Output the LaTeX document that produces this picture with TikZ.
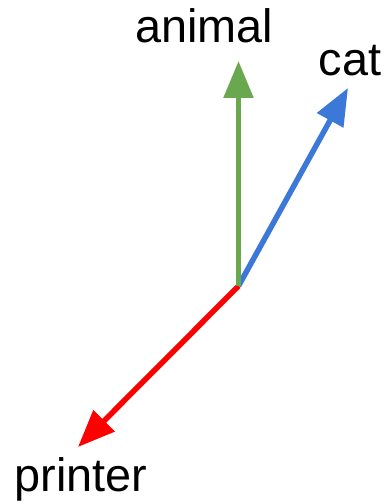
\documentclass[tikz,border=0pt]{standalone}
\usepackage{fontspec}
\setmainfont{Liberation Sans}
\usetikzlibrary{arrows.meta}
\definecolor{vgreen}{HTML}{6AA84F}
\definecolor{vblue}{HTML}{3C78D8}
\definecolor{vred}{HTML}{FF0000}
\begin{document}
\begin{tikzpicture}[x=1bp,y=1bp,
  vec/.style={line width=5.5bp,-{Triangle[length=37bp,width=29bp]}},
  lbl/.style={anchor=base,inner sep=0pt,font=\fontsize{47}{56}\selectfont}]
\useasboundingbox (0,0) rectangle (386,503);
\coordinate (o) at (238.5,217);
\coordinate (ga) at (238.5,442);
\coordinate (ca) at (348,415);
\coordinate (pa) at (78,56);
\draw[vec,vred] (o) -- (pa);
\draw[vec,vblue] (o) -- (ca);
\draw[vec,vgreen] (o) -- (ga);
\node[lbl] (animal) at (204,460) {animal};
\node[lbl] (cat) at (350,427) {cat};
\node[lbl] (printer) at (81,11) {printer};
\end{tikzpicture}
\end{document}
